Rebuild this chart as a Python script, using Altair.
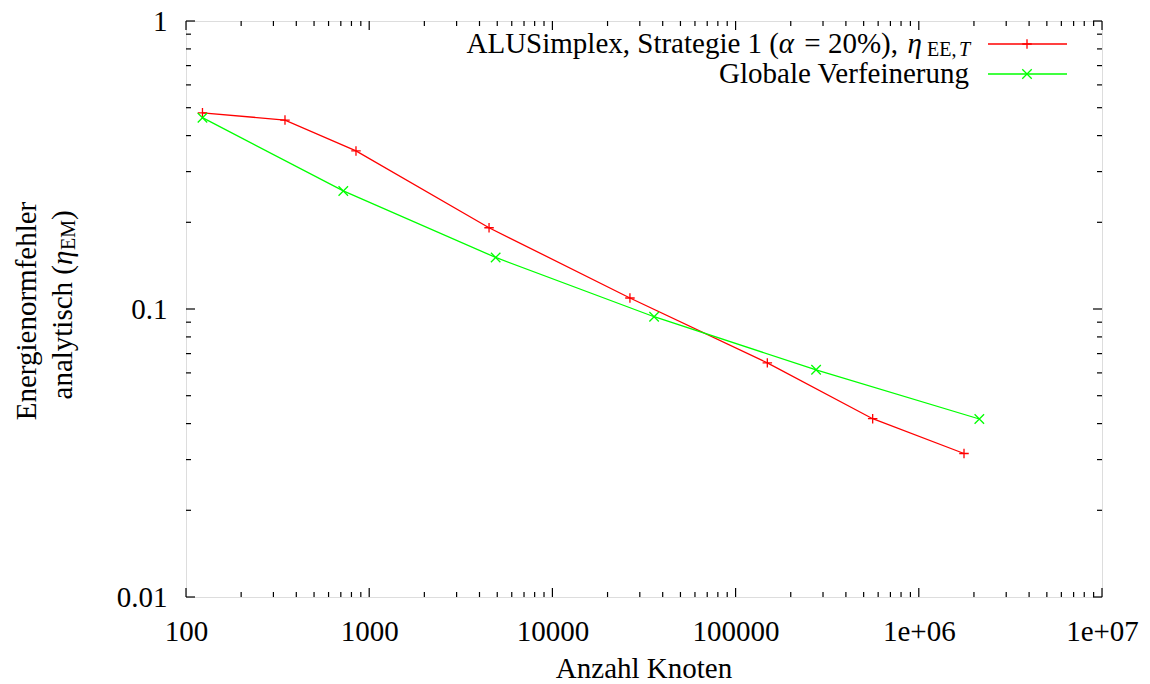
import altair as alt
import pandas as pd

# ---------------- data ----------------
series_names = ["ALUSimplex, Strategie 1 (α = 20%), ηEE,T", "Globale Verfeinerung"]
series_colors = ["#ff0000", "#00ff00"]

red_x = [123, 347, 847, 4510, 26500, 149000, 560000, 1765000]
red_y = [0.480, 0.453, 0.354, 0.1915, 0.1092, 0.0650, 0.0416, 0.0315]

green_x = [123, 722, 4900, 35900, 275000, 2140000]
green_y = [0.4616, 0.257, 0.151, 0.0940, 0.0615, 0.0415]

x_major = [100, 1000, 10000, 100000, 1000000, 10000000]
x_major_labels = ["100", "1000", "10000", "100000", "1e+06", "1e+07"]
x_minor = [200, 300, 400, 500, 600, 700, 800, 900,
           2000, 3000, 4000, 5000, 6000, 7000, 8000, 9000,
           20000, 30000, 40000, 50000, 60000, 70000, 80000, 90000,
           200000, 300000, 400000, 500000, 600000, 700000, 800000, 900000,
           2000000, 3000000, 4000000, 5000000, 6000000, 7000000, 8000000, 9000000]
y_major = [0.01, 0.1, 1]
y_major_labels = ["0.01", "0.1", "1"]
y_minor = [0.02, 0.03, 0.04, 0.05, 0.06, 0.07, 0.08, 0.09,
           0.2, 0.3, 0.4, 0.5, 0.6, 0.7, 0.8, 0.9]

x_title = "Anzahl Knoten"
y_title_1 = "Energienormfehler"
y_title_2 = "analytisch ("
y_title_eta = "η"
y_title_sub = "EM"
legend_1_main = "ALUSimplex, Strategie 1 ("
legend_1_alpha = "α"
legend_1_rest = "= 20%),"
legend_1_eta = "η"
legend_1_sub = "EE,"
legend_1_sub_it = "T"
legend_2 = "Globale Verfeinerung"

# ---------------- styling ----------------
W, H = 916, 576
FONT = "Liberation Serif"
FS = 29
FS_SUB = 20
PLUS = "M-1,0L1,0M0,-1L0,1"
CROSS = "M-1,-1L1,1M-1,1L1,-1"

xs = alt.Scale(type="log", domain=[100, 1e7], nice=False)
ys = alt.Scale(type="log", domain=[0.01, 1], nice=False)

df = pd.concat([
    pd.DataFrame({"n": red_x, "err": red_y, "series": series_names[0]}),
    pd.DataFrame({"n": green_x, "err": green_y, "series": series_names[1]}),
], ignore_index=True)


def label_expr(vals, labs):
    parts = []
    for v, s in zip(vals, labs):
        parts.append("abs(log(datum.value) - log(%r)) < 0.01 ? '%s'" % (v, s))
    return " : ".join(parts) + " : ''"


x_axis = alt.Axis(values=x_major, labelExpr=label_expr(x_major, x_major_labels),
                  labelFont=FONT, labelFontSize=FS, labelColor="black", ticks=False,
                  domain=False, grid=False, labelPadding=20, title=None, labelFlush=False,
                  labelOverlap=False)
y_axis = alt.Axis(values=y_major, labelExpr=label_expr(y_major, y_major_labels),
                  labelFont=FONT, labelFontSize=FS, labelColor="black", ticks=False,
                  domain=False, grid=False, labelPadding=19, title=None,
                  labelOverlap=False)

color = alt.Color("series:N", scale=alt.Scale(domain=series_names, range=series_colors),
                  legend=None)
shape = alt.Shape("series:N", scale=alt.Scale(domain=series_names, range=[PLUS, CROSS]),
                  legend=None)

lines = alt.Chart(df).mark_line(strokeWidth=1.3, clip=True).encode(
    x=alt.X("n:Q", scale=xs, axis=x_axis),
    y=alt.Y("err:Q", scale=ys, axis=y_axis),
    color=color,
)
points = alt.Chart(df).mark_point(filled=False, size=90, strokeWidth=1.3, opacity=1).encode(
    x=alt.X("n:Q", scale=xs, axis=x_axis),
    y=alt.Y("err:Q", scale=ys, axis=y_axis),
    color=color,
    shape=shape,
)

layers = [lines, points]

# inward ticks on all four sides (gnuplot style)
for vals, L in [(x_major, 9), (x_minor, 5)]:
    tdf = pd.DataFrame({"n": vals})
    layers.append(alt.Chart(tdf).mark_rule(color="black", strokeWidth=1.2).encode(
        x=alt.X("n:Q", scale=xs, axis=x_axis), y=alt.value(H), y2=alt.value(H - L)))
    layers.append(alt.Chart(tdf).mark_rule(color="black", strokeWidth=1.2).encode(
        x=alt.X("n:Q", scale=xs, axis=x_axis), y=alt.value(0), y2=alt.value(L)))
for vals, L in [(y_major, 9), (y_minor, 5)]:
    tdf = pd.DataFrame({"err": vals})
    layers.append(alt.Chart(tdf).mark_rule(color="black", strokeWidth=1.2).encode(
        y=alt.Y("err:Q", scale=ys, axis=y_axis), x=alt.value(0), x2=alt.value(L)))
    layers.append(alt.Chart(tdf).mark_rule(color="black", strokeWidth=1.2).encode(
        y=alt.Y("err:Q", scale=ys, axis=y_axis), x=alt.value(W), x2=alt.value(W - L)))


def text(t, x, y, size=FS, align="center", baseline="middle", angle=0, style="normal"):
    return alt.Chart(pd.DataFrame({"t": [t]})).mark_text(
        font=FONT, fontSize=size, align=align, baseline=baseline, angle=angle,
        fontStyle=style, color="black").encode(
        text="t:N", x=alt.value(x), y=alt.value(y))


# axis titles
layers.append(text(x_title, W / 2, 657, baseline="alphabetic"))
layers.append(text(y_title_1, -159, 290, angle=270))
layers.append(text(y_title_2, -123, 244, align="right", angle=270))
layers.append(text(y_title_eta, -123, 244, align="left", angle=270, style="italic"))
layers.append(text(y_title_sub, -117, 229, size=FS_SUB, align="left", angle=270))
layers.append(text(")", -123, 199, align="left", angle=270))

# legend (inside, top right) - pieces anchored right-to-left
layers.append(text(legend_1_sub, 741, 29, size=FS_SUB, align="left"))
layers.append(text(legend_1_sub_it, 773, 29, size=FS_SUB, align="left", style="italic"))
layers.append(text(legend_1_eta, 736, 23, align="right", style="italic"))
layers.append(text(legend_1_rest, 712, 23, align="right"))
layers.append(text(legend_1_alpha, 608, 23, align="right", style="italic"))
layers.append(text(legend_1_main, 593, 23, align="right"))
layers.append(text(legend_2, 783, 53, align="right"))

for name, col, path, ly in zip(series_names, series_colors, [PLUS, CROSS], [23, 53]):
    one = pd.DataFrame({"series": [name]})
    layers.append(alt.Chart(one).mark_rule(strokeWidth=1.3, color=col).encode(
        x=alt.value(802), x2=alt.value(881), y=alt.value(ly)))
    layers.append(alt.Chart(one).mark_point(filled=False, size=90, strokeWidth=1.3,
                                            opacity=1, color=col, shape=path).encode(
        x=alt.value(841), y=alt.value(ly)))

chart = alt.layer(*layers).properties(
    width=W, height=H,
    autosize=alt.AutoSizeParams(type="none"),
    padding={"left": 186, "top": 21, "right": 48, "bottom": 87},
).configure_view(stroke="black", strokeWidth=2).configure(background="white")

chart.save("out.html", embed_options={"renderer": "svg", "actions": False})
